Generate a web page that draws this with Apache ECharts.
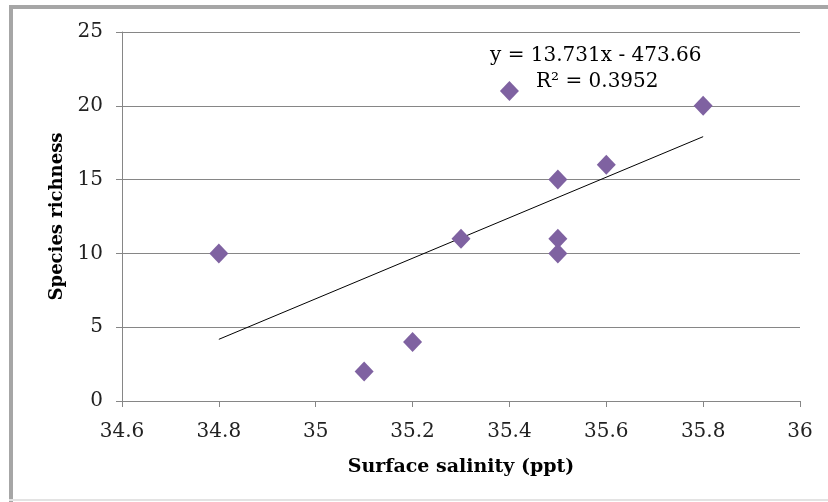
<!DOCTYPE html>
<html><head><meta charset="utf-8">
<script src="https://cdn.jsdelivr.net/npm/echarts@6/dist/echarts.min.js"></script>
<style>html,body{margin:0;padding:0;background:#fff}#c{width:828px;height:502px}</style>
</head><body><div id="c"></div>
<script>
const salinity = [34.8, 35.1, 35.2, 35.3, 35.4, 35.5, 35.5, 35.5, 35.6, 35.8];
const richness = [10, 2, 4, 11, 21, 15, 11, 10, 16, 20];
const trendSlope = 13.731;
const trendIntercept = -473.66;
const trendRange = [34.8, 35.8];
const xTitle = 'Surface salinity (ppt)';
const yTitle = 'Species richness';
const eqLines = ['y = 13.731x - 473.66', 'R² = 0.3952'];

const FONT = '"DejaVu Serif", serif';
const chart = echarts.init(document.getElementById('c'), null, {renderer: 'canvas'});
const points = salinity.map((x, i) => [x, richness[i]]);
const trend = trendRange.map(x => [x, trendSlope * x + trendIntercept]);

chart.setOption({
  animation: false,
  backgroundColor: '#fff',
  grid: {left: 122, right: 28, top: 32, bottom: 101, containLabel: false},
  xAxis: {
    type: 'value', min: 34.6, max: 36, interval: 0.2,
    name: xTitle, nameLocation: 'middle', nameGap: 57,
    nameTextStyle: {fontFamily: FONT, fontWeight: 'bold', fontSize: 19, color: '#000'},
    axisLine: {show: true, onZero: false, lineStyle: {color: '#868686', width: 1}},
    axisTick: {show: true, length: 6, lineStyle: {color: '#868686'}},
    axisLabel: {fontFamily: FONT, fontSize: 20, color: '#222', margin: 21,
      formatter: v => String(parseFloat(v.toFixed(1)))},
    splitLine: {show: false}
  },
  yAxis: {
    type: 'value', min: 0, max: 25, interval: 5,
    name: yTitle, nameLocation: 'middle', nameGap: 52,
    nameTextStyle: {fontFamily: FONT, fontWeight: 'bold', fontSize: 18, color: '#000'},
    axisLine: {show: true, lineStyle: {color: '#868686', width: 1}},
    axisTick: {show: true, length: 6, lineStyle: {color: '#868686'}},
    axisLabel: {fontFamily: FONT, fontSize: 20, color: '#222', margin: 19},
    splitLine: {show: true, lineStyle: {color: '#868686', width: 1}}
  },
  series: [
    {
      type: 'line', data: trend, symbol: 'none', silent: true,
      lineStyle: {color: '#000', width: 1}, z: 2
    },
    {
      type: 'scatter', data: points, symbol: 'diamond', symbolSize: [19, 20],
      itemStyle: {color: '#7F62A1', opacity: 1}, z: 3
    }
  ],
  graphic: [
    {type: 'rect', shape: {x: 9, y: 5, width: 830, height: 4}, style: {fill: '#A6A6A6'}, silent: true},
    {type: 'rect', shape: {x: 9, y: 5, width: 4, height: 500}, style: {fill: '#A6A6A6'}, silent: true},
    {type: 'rect', shape: {x: 9, y: 499, width: 830, height: 2}, style: {fill: '#E3E3E3'}, silent: true},
    {type: 'text', left: 490, top: 46, style: {text: eqLines[0], font: '20px ' + FONT, fill: '#000'}},
    {type: 'text', left: 536, top: 72, style: {text: eqLines[1], font: '20px ' + FONT, fill: '#000'}}
  ]
});
</script></body></html>
